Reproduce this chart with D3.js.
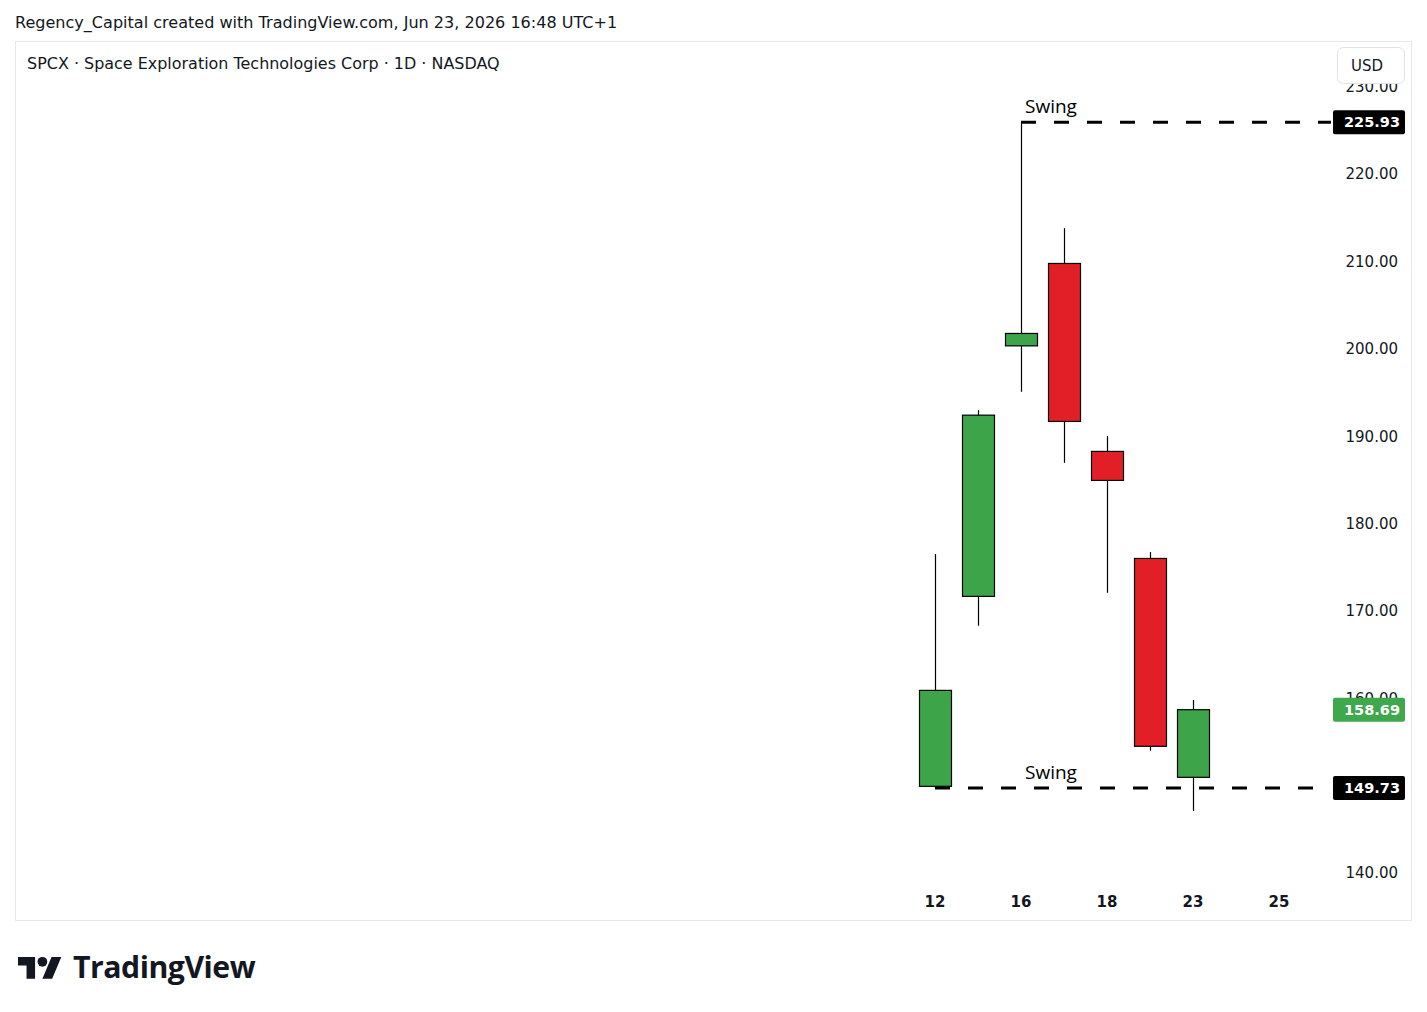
<!DOCTYPE html>
<html>
<head>
<meta charset="utf-8">
<script src="https://cdn.jsdelivr.net/npm/d3@7"></script>
<style>
  html, body { margin: 0; padding: 0; background: #fff; }
  svg { display: block; font-family: "DejaVu Sans", sans-serif; }
</style>
</head>
<body>
<div id="chart"></div>
<script>
// data
var dates = ["12", "15", "16", "17", "18", "22", "23", "24", "25"];
var tickDates = ["12", "16", "18", "23", "25"];
var opens  = [149.92, 171.66, 200.33, 209.76, 188.25, 176.00, 150.95];
var highs  = [176.50, 192.97, 225.93, 213.80, 190.00, 176.73, 159.80];
var lows   = [149.73, 168.30, 195.07, 186.94, 172.07, 154.00, 147.10];
var closes = [160.90, 192.40, 201.75, 191.68, 184.93, 154.50, 158.69];
// 150.00 sits fully under the 149.73 label, so it is left out
var priceTicks = [140, 160, 170, 180, 190, 200, 210, 220, 230];
var swingHigh = 225.93, swingLow = 149.73, lastPrice = 158.69;

var W = 1427, H = 1012;
var up = '#3da44a', down = '#e21f27', ink = '#131722';

var svg = d3.select('#chart').append('svg').attr('width', W).attr('height', H);

// fit a text to the width it takes in the picture
function fit(sel, w) {
  var n = sel.node();
  var fs = parseFloat(sel.attr('font-size'));
  sel.attr('font-size', fs * w / n.getComputedTextLength());
  return sel;
}

// header
fit(svg.append('text').attr('x', 15).attr('y', 28)
  .attr('font-size', 15).attr('fill', ink)
  .text('Regency_Capital created with TradingView.com, Jun 23, 2026 16:48 UTC+1'), 603);

// pane frame
svg.append('rect').attr('x', 15.5).attr('y', 41.5).attr('width', 1396).attr('height', 879)
  .attr('fill', '#fff').attr('stroke', '#e6e8ee');

fit(svg.append('text').attr('x', 27).attr('y', 69)
  .attr('font-size', 15).attr('fill', ink)
  .text('SPCX \u00b7 Space Exploration Technologies Corp \u00b7 1D \u00b7 NASDAQ'), 473);

// scales
var x = d3.scalePoint().domain(dates).range([935, 1279]);
var y = d3.scaleLinear().domain([140, 220]).range([873, 174]);
var candles = d3.range(opens.length).map(function(i) {
  return {d: dates[i], o: opens[i], h: highs[i], l: lows[i], c: closes[i]};
});

// price axis labels
svg.append('g').selectAll('text').data(priceTicks).enter().append('text')
  .attr('x', 1398).attr('y', function(d) { return y(d); }).attr('dy', '0.36em')
  .attr('text-anchor', 'end').attr('font-size', 15).attr('fill', ink)
  .text(function(d) { return d3.format('.2f')(d); });

// time axis labels
svg.append('g').selectAll('text').data(tickDates).enter().append('text')
  .attr('x', function(d) { return x(d); }).attr('y', 907)
  .attr('text-anchor', 'middle').attr('font-size', 15).attr('font-weight', 700).attr('fill', ink)
  .text(function(d) { return d; });

// candles
var bw = 32;
var g = svg.append('g');
g.selectAll('line.wick').data(candles).enter().append('line')
  .attr('class', 'wick')
  .attr('x1', function(d) { return Math.round(x(d.d)) + 0.5; })
  .attr('x2', function(d) { return Math.round(x(d.d)) + 0.5; })
  .attr('y1', function(d) { return y(d.h); })
  .attr('y2', function(d) { return y(d.l); })
  .attr('stroke', '#000').attr('stroke-width', 1.2);
g.selectAll('rect.body').data(candles).enter().append('rect')
  .attr('class', 'body')
  .attr('x', function(d) { return Math.round(x(d.d)) - bw / 2 + 0.5; })
  .attr('y', function(d) { return y(Math.max(d.o, d.c)); })
  .attr('width', bw)
  .attr('height', function(d) { return Math.abs(y(d.o) - y(d.c)); })
  .attr('fill', function(d) { return d.c >= d.o ? up : down; })
  .attr('stroke', '#000').attr('stroke-width', 1.2);

// swing lines
var swings = [{p: swingHigh, from: dates[2]}, {p: swingLow, from: dates[0]}];
svg.append('g').selectAll('line').data(swings).enter().append('line')
  .attr('x1', function(d) { return x(d.from); }).attr('x2', 1331)
  .attr('y1', function(d) { return y(d.p); }).attr('y2', function(d) { return y(d.p); })
  .attr('stroke', '#000').attr('stroke-width', 3).attr('stroke-dasharray', '15,18');
svg.append('g').selectAll('text').data(swings).enter().append('text')
  .attr('x', x(dates[2]) + 4).attr('y', function(d) { return y(d.p) - 9; })
  .attr('font-family', '"Open Sans", sans-serif')
  .attr('font-size', 19).attr('fill', '#000')
  .text('Swing');

// price labels on axis
var labels = [
  {p: swingHigh, fill: '#000'},
  {p: lastPrice, fill: '#3fa74c'},
  {p: swingLow, fill: '#000'}
];
var lg = svg.append('g').selectAll('g').data(labels).enter().append('g')
  .attr('transform', function(d) { return 'translate(1333,' + (y(d.p) - 12) + ')'; });
lg.append('rect').attr('width', 72).attr('height', 24).attr('rx', 2)
  .attr('fill', function(d) { return d.fill; });
lg.append('text').attr('x', 39).attr('y', 12).attr('dy', '0.36em')
  .attr('text-anchor', 'middle').attr('font-size', 14.5).attr('font-weight', 700).attr('fill', '#fff')
  .text(function(d) { return d3.format('.2f')(d.p); });

// USD button
svg.append('rect').attr('x', 1337.5).attr('y', 47.5).attr('width', 67).attr('height', 36).attr('rx', 6)
  .attr('fill', '#fff').attr('stroke', '#e0e3eb');
svg.append('text').attr('x', 1367).attr('y', 66).attr('dy', '0.36em')
  .attr('text-anchor', 'middle').attr('font-size', 15).attr('fill', ink).text('USD');

// TradingView logo
var logo = svg.append('g').attr('transform', 'translate(18,952) scale(1.22)');
logo.append('path').attr('d', 'M14 22H7V11H0V4h14v18zM28 22h-8l7.5-18h8L28 22z').attr('fill', ink);
logo.append('circle').attr('cx', 20).attr('cy', 8).attr('r', 4).attr('fill', ink);
fit(svg.append('text').attr('x', 73).attr('y', 978)
  .attr('font-family', '"Open Sans", sans-serif')
  .attr('font-size', 29).attr('font-weight', 700).attr('letter-spacing', -0.5).attr('fill', ink)
  .text('TradingView'), 182);
</script>
</body>
</html>
